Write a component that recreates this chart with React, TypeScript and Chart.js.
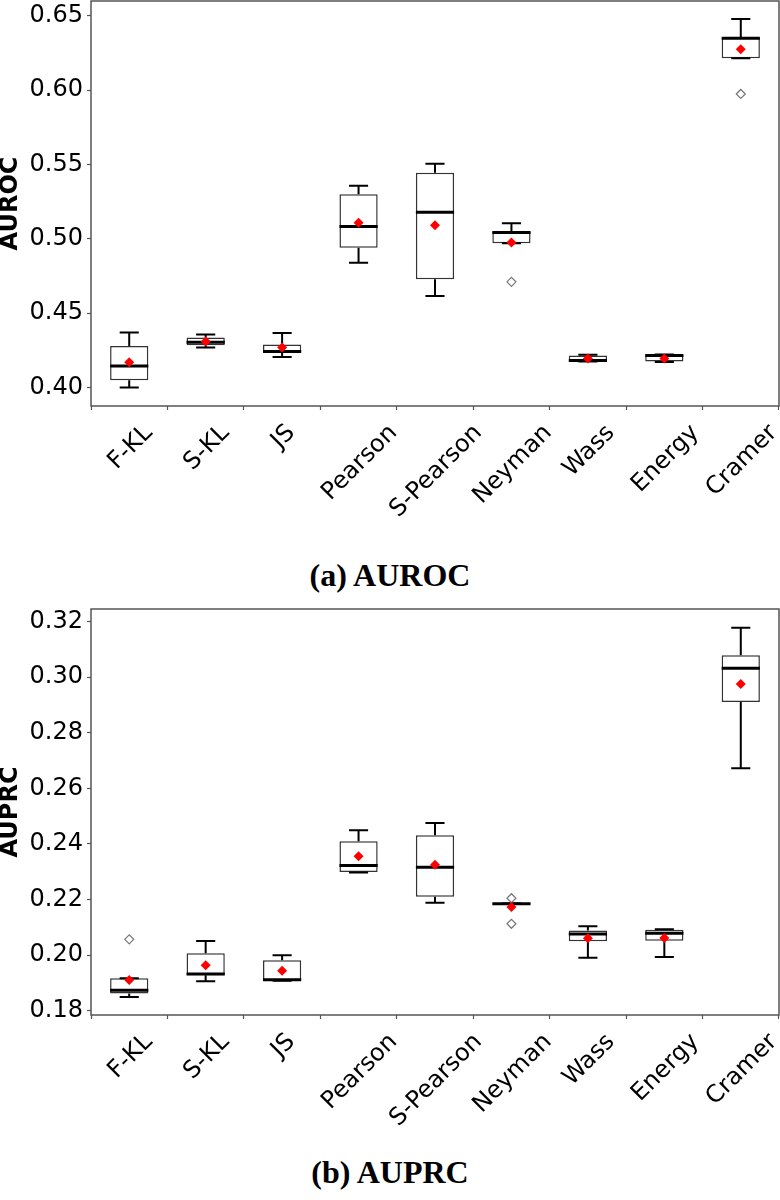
import React, { useEffect, useRef } from 'react';
import { Chart, registerables } from 'chart.js';

Chart.register(...registerables);

// Divergence measures compared on the x axis
const CATEGORIES = ['F-KL', 'S-KL', 'JS', 'Pearson', 'S-Pearson', 'Neyman', 'Wass', 'Energy', 'Cramer'];

// AUROC box statistics per measure
const AUROC_LOW = [0.4, 0.4269, 0.4206, 0.4839, 0.4616, 0.4971, 0.4175, 0.4172, 0.6214];
const AUROC_Q1 = [0.4049, 0.4285, 0.424, 0.494, 0.4729, 0.4971, 0.418, 0.4175, 0.6214];
const AUROC_MEDIAN = [0.4145, 0.4305, 0.4243, 0.5083, 0.5178, 0.5043, 0.4182, 0.4215, 0.6349];
const AUROC_Q3 = [0.428, 0.4336, 0.4289, 0.5299, 0.5444, 0.505, 0.4215, 0.4218, 0.6352];
const AUROC_HIGH = [0.437, 0.4357, 0.4367, 0.5357, 0.5505, 0.5104, 0.422, 0.4222, 0.6478];
const AUROC_MEAN = [0.417, 0.431, 0.427, 0.5108, 0.5092, 0.4976, 0.4195, 0.4195, 0.6275];
const AUROC_OUTLIERS = [
  { x: 'Neyman', y: 0.4711 },
  { x: 'Cramer', y: 0.5974 },
];
const AUROC_TICKS = [0.4, 0.45, 0.5, 0.55, 0.6, 0.65];

// AUPRC box statistics per measure
const AUPRC_LOW = [0.185, 0.1906, 0.1908, 0.2297, 0.2189, 0.2185, 0.1991, 0.1994, 0.2672];
const AUPRC_Q1 = [0.1862, 0.1928, 0.191, 0.2299, 0.221, 0.2185, 0.205, 0.2052, 0.2911];
const AUPRC_MEDIAN = [0.1874, 0.1932, 0.1912, 0.2323, 0.2316, 0.2185, 0.2076, 0.2079, 0.3032];
const AUPRC_Q3 = [0.1917, 0.2007, 0.1982, 0.241, 0.2431, 0.2186, 0.2089, 0.2092, 0.3079];
const AUPRC_HIGH = [0.1917, 0.2051, 0.2, 0.2449, 0.2475, 0.2186, 0.2104, 0.2093, 0.3178];
const AUPRC_MEAN = [0.1911, 0.1964, 0.1944, 0.2356, 0.2325, 0.2173, 0.2061, 0.2062, 0.2975];
const AUPRC_OUTLIERS = [
  { x: 'F-KL', y: 0.2057 },
  { x: 'Neyman', y: 0.2205 },
  { x: 'Neyman', y: 0.2113 },
];
const AUPRC_TICKS = [0.18, 0.2, 0.22, 0.24, 0.26, 0.28, 0.3, 0.32];

type Outlier = { x: string; y: number };
type BoxStats = {
  low: number[];
  q1: number[];
  median: number[];
  q3: number[];
  high: number[];
  mean: number[];
  outliers: Outlier[];
};

type PanelProps = {
  stats: BoxStats;
  tickValues: number[];
  yMin: number;
  yMax: number;
  yTitle: string;
  top: number;
  height: number;
  padTop: number;
  xAxisHeight: number;
};

const TICK_FONT = '24px "DejaVu Sans"';
const FRAME_COLOR = '#555';

function BoxPanel({ stats, tickValues, yMin, yMax, yTitle, top, height, padTop, xAxisHeight }: PanelProps) {
  const ref = useRef<HTMLCanvasElement>(null);

  useEffect(() => {
    const canvas = ref.current;
    if (!canvas) return;

    // whiskers, caps and median lines on top of the Q1–Q3 bars
    const whiskerPlugin = {
      id: 'whiskers',
      afterDatasetDraw(chart: any, args: any) {
        if (args.index !== 0) return;
        const { ctx } = chart;
        const y = chart.scales.y;
        ctx.save();
        ctx.strokeStyle = '#000';
        args.meta.data.forEach((bar: any, i: number) => {
          const { x, width } = bar.getProps(['x', 'width'], true);
          const half = width / 2;
          const cap = width / 4;
          const yLow = y.getPixelForValue(stats.low[i]);
          const yQ1 = y.getPixelForValue(stats.q1[i]);
          const yQ3 = y.getPixelForValue(stats.q3[i]);
          const yHigh = y.getPixelForValue(stats.high[i]);
          const yMed = y.getPixelForValue(stats.median[i]);
          ctx.lineWidth = 2;
          ctx.beginPath();
          ctx.moveTo(x, yQ3);
          ctx.lineTo(x, yHigh);
          ctx.moveTo(x, yQ1);
          ctx.lineTo(x, yLow);
          ctx.moveTo(x - cap, yHigh);
          ctx.lineTo(x + cap, yHigh);
          ctx.moveTo(x - cap, yLow);
          ctx.lineTo(x + cap, yLow);
          ctx.stroke();
          ctx.lineWidth = 3;
          ctx.beginPath();
          ctx.moveTo(x - half, yMed);
          ctx.lineTo(x + half, yMed);
          ctx.stroke();
        });
        ctx.restore();
      },
    };

    // full frame around the plotting area
    const framePlugin = {
      id: 'frame',
      afterDraw(chart: any) {
        const { ctx, chartArea: a } = chart;
        ctx.save();
        ctx.strokeStyle = FRAME_COLOR;
        ctx.lineWidth = 1.5;
        ctx.strokeRect(a.left, a.top, a.right - a.left, a.bottom - a.top);
        ctx.restore();
      },
    };

    // category names rotated 45°, centred under each tick
    const labelPlugin = {
      id: 'rotatedLabels',
      afterDraw(chart: any) {
        const { ctx } = chart;
        const xs = chart.scales.x;
        ctx.save();
        ctx.font = TICK_FONT;
        ctx.fillStyle = '#000';
        ctx.textAlign = 'center';
        ctx.textBaseline = 'alphabetic';
        CATEGORIES.forEach((label, i) => {
          const x = xs.getPixelForTick(i);
          const m = ctx.measureText(label);
          const asc = m.fontBoundingBoxAscent ?? 22;
          const desc = m.fontBoundingBoxDescent ?? 6;
          const boxH = (m.width + asc + desc) * Math.SQRT1_2;
          const cy = xs.top + 12 + boxH / 2;
          ctx.save();
          ctx.translate(x, cy);
          ctx.rotate(-Math.PI / 4);
          ctx.fillText(label, 0, (asc - desc) / 2);
          ctx.restore();
        });
        ctx.restore();
      },
    };

    const gridOpts = {
      display: true,
      drawOnChartArea: false,
      drawTicks: true,
      tickLength: 4,
      tickColor: FRAME_COLOR,
      tickWidth: 1.2,
    };

    const noPadding = (scale: any) => {
      scale.paddingTop = 0;
      scale.paddingBottom = 0;
      scale.paddingLeft = 0;
      scale.paddingRight = 0;
    };

    const chart = new Chart(canvas, {
      type: 'bar',
      data: {
        labels: CATEGORIES,
        datasets: [
          {
            type: 'bar',
            data: stats.q1.map((v, i) => [v, stats.q3[i]]),
            backgroundColor: '#fff',
            borderColor: '#333',
            borderWidth: 1.5,
            borderSkipped: false,
            barPercentage: 0.5,
            categoryPercentage: 1,
            order: 3,
          } as any,
          {
            type: 'line',
            data: stats.outliers as any,
            showLine: false,
            pointStyle: 'rectRot',
            pointRadius: 4.5,
            pointBorderWidth: 1.2,
            pointBorderColor: '#777',
            pointBackgroundColor: 'rgba(255,255,255,0)',
            order: 2,
          } as any,
          {
            type: 'line',
            data: stats.mean,
            showLine: false,
            pointStyle: 'rectRot',
            pointRadius: 5,
            pointBorderWidth: 0,
            pointBorderColor: '#ff0000',
            pointBackgroundColor: '#ff0000',
            order: 1,
          } as any,
        ],
      },
      options: {
        responsive: false,
        animation: false,
        devicePixelRatio: 1,
        layout: { autoPadding: false, padding: { top: padTop, right: 1, left: 0, bottom: 0 } },
        plugins: {
          legend: { display: false },
          tooltip: { enabled: false },
        },
        scales: {
          x: {
            type: 'category',
            offset: true,
            grid: gridOpts as any,
            border: { display: false },
            ticks: { display: false },
            afterFit: (scale: any) => {
              scale.height = xAxisHeight;
              noPadding(scale);
            },
          },
          y: {
            type: 'linear',
            min: yMin,
            max: yMax,
            grid: gridOpts as any,
            border: { display: false },
            afterBuildTicks: (scale: any) => {
              scale.ticks = tickValues.map((value) => ({ value }));
            },
            afterFit: (scale: any) => {
              scale.width = 91;
              noPadding(scale);
            },
            ticks: {
              color: '#000',
              padding: 4,
              font: { family: 'DejaVu Sans', size: 24 },
              callback: (v: any) => Number(v).toFixed(2),
            },
            title: {
              display: true,
              text: yTitle,
              color: '#000',
              padding: 0,
              font: { family: 'DejaVu Sans', size: 24, weight: 'bold', lineHeight: 0.9 },
            },
          },
        },
      },
      plugins: [whiskerPlugin, framePlugin, labelPlugin],
    });

    return () => chart.destroy();
  }, []);

  return (
    <canvas
      ref={ref}
      width={780}
      height={height}
      style={{ position: 'absolute', left: 0, top, width: 780, height, display: 'block' }}
    />
  );
}

const captionStyle = (top: number): React.CSSProperties => ({
  position: 'absolute',
  left: 0,
  top,
  width: 780,
  height: 40,
  lineHeight: '40px',
  textAlign: 'center',
  fontFamily: '"Liberation Serif", serif',
  fontWeight: 'bold',
  fontSize: 32,
  color: '#000',
});

export default function App() {
  const auroc: BoxStats = {
    low: AUROC_LOW,
    q1: AUROC_Q1,
    median: AUROC_MEDIAN,
    q3: AUROC_Q3,
    high: AUROC_HIGH,
    mean: AUROC_MEAN,
    outliers: AUROC_OUTLIERS,
  };
  const auprc: BoxStats = {
    low: AUPRC_LOW,
    q1: AUPRC_Q1,
    median: AUPRC_MEDIAN,
    q3: AUPRC_Q3,
    high: AUPRC_HIGH,
    mean: AUPRC_MEAN,
    outliers: AUPRC_OUTLIERS,
  };

  return (
    <div style={{ position: 'absolute', left: 0, top: 0, width: 780, height: 1200, background: '#fff', overflow: 'hidden' }}>
      <BoxPanel
        stats={auroc}
        tickValues={AUROC_TICKS}
        yMin={0.3876}
        yMax={0.6599}
        yTitle="AUROC"
        top={0}
        height={540}
        padTop={1}
        xAxisHeight={134}
      />
      <div style={captionStyle(555)}>(a) AUROC</div>
      <BoxPanel
        stats={auprc}
        tickValues={AUPRC_TICKS}
        yMin={0.1785}
        yMax={0.3245}
        yTitle="AUPRC"
        top={590}
        height={550}
        padTop={19}
        xAxisHeight={125}
      />
      <div style={captionStyle(1152)}>(b) AUPRC</div>
    </div>
  );
}
